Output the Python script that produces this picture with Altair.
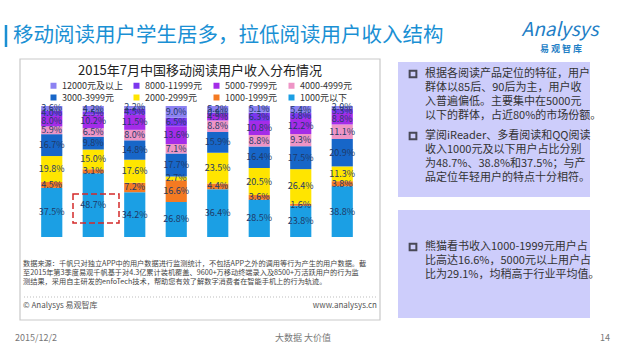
import altair as alt
import pandas as pd

FONT = "Noto Sans CJK SC"

# ---------------- data ----------------
apps = ["QQ阅读", "掌阅", "塔读文学", "熊猫看书", "爱阅读", "起点读书", "网易云阅读", "多看阅读"]
# tiers from bottom of the stack to top
tiers = ["1000元以下", "1000-1999元", "2000-2999元", "3000-3999元",
         "4000-4999元", "5000-7999元", "8000-11999元", "12000元及以上"]
tier_colors = ["#1b9fe4", "#f47a22", "#ffe500", "#1766c8",
               "#ee95c6", "#a42ce8", "#7b36ee", "#8c82f2"]

v_lt1000 = [37.5, 48.7, 34.2, 26.8, 36.4, 28.5, 23.8, 38.8]
v_1000 = [4.5, 3.1, 7.2, 16.6, 4.4, 3.6, 1.6, 3.8]
v_2000 = [19.8, 15.0, 17.6, 2.7, 23.5, 20.5, 26.4, 11.3]
v_3000 = [16.7, 9.8, 14.8, 17.7, 15.9, 16.4, 17.5, 20.9]
v_4000 = [5.9, 6.5, 8.0, 7.1, 8.8, 8.8, 9.3, 11.1]
v_5000 = [8.0, 10.2, 11.5, 13.6, 4.9, 10.8, 12.2, 8.8]
v_8000 = [4.0, 2.5, 4.5, 6.5, 0.9, 6.3, 3.8, 3.3]
v_12000 = [3.6, 4.2, 2.2, 9.0, 5.2, 5.1, 5.4, 2.0]
series = [v_lt1000, v_1000, v_2000, v_3000, v_4000, v_5000, v_8000, v_12000]

slide_title = "移动阅读用户学生居多，拉低阅读用户收入结构"
chart_title = "2015年7月中国移动阅读用户收入分布情况"
source_lines = [
    "数据来源：千帆只对独立APP中的用户数据进行监测统计，不包括APP之外的调用等行为产生的用户数据。截",
    "至2015年第3季度易观千帆基于对4.3亿累计装机覆盖、9600+万移动终端录入及8500+万活跃用户的行为监",
    "测结果，采用自主研发的enfoTech技术，帮助您有效了解数字消费者在智能手机上的行为轨迹。",
]
para1 = ["根据各阅读产品定位的特征，用户", "群体以85后、90后为主，用户收",
         "入普遍偏低。主要集中在5000元", "以下的群体，占近80%的市场份额。"]
para2 = ["掌阅iReader、多看阅读和QQ阅读", "收入1000元及以下用户占比分别",
         "为48.7%、38.8%和37.5%；与产", "品定位年轻用户的特点十分相符。"]
para3 = ["熊猫看书收入1000-1999元用户占", "比高达16.6%，5000元以上用户占",
         "比为29.1%，均稍高于行业平均值。"]

rows = []
for i, app in enumerate(apps):
    for j, tier in enumerate(tiers):
        rows.append({"app": app, "tier": tier, "idx": j, "value": series[j][i]})
df = pd.DataFrame(rows)

# plot-area placement inside the 624x350 page
PX, PY, PW, PH = 31, 106, 332, 131
one = pd.DataFrame({"k": [0]})


def txt(s, x, y, size, color="#333333", align="left", weight="normal", style="normal", font=FONT):
    return alt.Chart(one).mark_text(
        fontSize=size, color=color, align=align, baseline="middle",
        fontWeight=weight, fontStyle=style, font=font
    ).encode(text=alt.value(s), x=alt.value(x - PX), y=alt.value(y - PY))


def rect(x1, y1, x2, y2, fill="none", stroke=None, sw=1, dash=None):
    kw = dict(fill=fill)
    if stroke:
        kw.update(stroke=stroke, strokeWidth=sw)
    if dash:
        kw.update(strokeDash=dash)
    return alt.Chart(one).mark_rect(**kw).encode(
        x=alt.value(x1 - PX), x2=alt.value(x2 - PX), y=alt.value(y1 - PY), y2=alt.value(y2 - PY))


layers = []
# chart frame
layers.append(rect(20, 59, 380, 320, fill="white", stroke="#c9c9c9", sw=1.2))
layers.append(alt.Chart(one).mark_rule(color="#bdbdbd", strokeWidth=1, strokeDash=[1, 2]).encode(
    x=alt.value(24 - PX), x2=alt.value(376 - PX), y=alt.value(297 - PY)))
# right panels
layers.append(rect(398, 62, 590, 197, fill="#cdcdfb"))
layers.append(rect(398, 210, 590, 318, fill="#cdcdfb"))

# stacked bars
base = alt.Chart(df).transform_stack(
    stack="value", groupby=["app"], as_=["v0", "v1"],
    sort=[alt.SortField("idx", order="ascending")])

xenc = alt.X("app:N", sort=apps,
             scale=alt.Scale(paddingInner=0.49, paddingOuter=0.245),
             axis=alt.Axis(title=None, labelAngle=0, ticks=False, domain=False,
                           labelFontSize=9, labelColor="#333333", labelPadding=9,
                           labelFont=FONT))
yscale = alt.Scale(domain=[0, 100], nice=False)

bars = base.mark_bar().encode(
    x=xenc,
    y=alt.Y("v0:Q", scale=yscale, axis=None),
    y2="v1:Q",
    color=alt.Color("tier:N",
                    scale=alt.Scale(domain=tiers[::-1], range=tier_colors[::-1]),
                    legend=alt.Legend(title=None, orient="none", legendX=18, legendY=-25,
                                      direction="horizontal",
                                      columns=4, symbolType="square", symbolSize=36,
                                      labelFontSize=9, labelFont=FONT, labelColor="#333333",
                                      columnPadding=9, rowPadding=2, symbolStrokeWidth=0)),
)
layers.append(bars)

labels = base.transform_calculate(
    mid="(datum.v0 + datum.v1) / 2",
    lab="format(datum.value, '.1f') + '%'"
).mark_text(fontSize=9, color="#1f3a68", font=FONT).encode(
    x=alt.X("app:N", sort=apps),
    y=alt.Y("mid:Q", scale=yscale),
    text="lab:N",
)
layers.append(labels)

# dashed highlight around 掌阅 48.7%
layers.append(rect(73, 194, 119, 223, stroke="#d42a2a", sw=1.5, dash=[6, 3]))

# titles
layers.append(alt.Chart(one).mark_rule(color="#1a8fd3", strokeWidth=2.5).encode(
    x=alt.value(6 - PX), y=alt.value(25 - PY), y2=alt.value(47 - PY)))
layers.append(txt(slide_title, 13, 36, 20.5, color="#1a90d4"))
layers.append(txt("Analysys", 560, 30, 19, color="#1f7fc6", align="center", style="italic"))
layers.append(txt("易 观 智 库", 561, 49, 9, color="#1f7fc6", align="center", weight="bold"))
layers.append(txt(chart_title, 200, 71, 13, color="#222222", align="center"))

# source note and footer inside frame
for k, s in enumerate(source_lines):
    layers.append(txt(s, 23, 264 + 9 * k, 7.2, color="#444444"))
layers.append(txt("© Analysys 易观智库", 23, 306, 8, color="#555555"))
layers.append(txt("www.analysys.cn", 377, 306, 8, color="#555555", align="right"))

# right panel text
def para(lines, y0, step=14):
    out = [alt.Chart(one).mark_point(shape="square", filled=False, color="#111111",
                                     strokeWidth=2, size=45).encode(
        x=alt.value(413 - PX), y=alt.value(y0 - PY))]
    for k, s in enumerate(lines):
        out.append(txt(s, 425, y0 + step * k, 11, color="#333333"))
    return out

layers += para(para1, 74)
layers += para(para2, 136)
layers += para(para3, 247)

# slide footer
layers.append(txt("2015/12/2", 15, 338, 9, color="#777777"))
layers.append(txt("大数据   大价值", 303, 338, 9, color="#777777", align="center"))
layers.append(txt("14", 610, 338, 9, color="#777777", align="right"))

chart = alt.layer(*layers).properties(
    width=PW, height=PH,
    padding={"left": PX, "top": PY, "right": 624 - PX - PW, "bottom": 350 - PY - PH},
    autosize=alt.AutoSizeParams(type="none"),
    background="white",
).configure_view(stroke=None)

chart.save("out.html", embed_options={"renderer": "svg", "actions": False})
